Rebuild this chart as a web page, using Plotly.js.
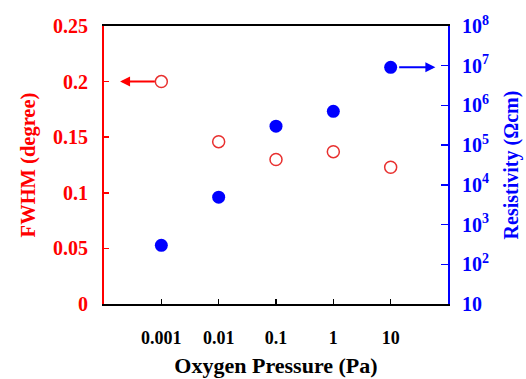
<!DOCTYPE html>
<html>
<head>
<meta charset="utf-8">
<script src="https://cdn.plot.ly/plotly-3.0.1.min.js"></script>
<style>html,body{margin:0;padding:0;background:#fff;}#chart{width:526px;height:379px;}</style>
</head>
<body>
<div id="chart"></div>
<script>
// Data
const pressure = [0.001, 0.01, 0.1, 1, 10];              // Oxygen pressure (Pa)
const fwhm = [0.200, 0.146, 0.130, 0.137, 0.123];          // FWHM (degree)
const resistivity = [300, 4900, 3.0e5, 7.1e5, 9.1e6];     // Resistivity (Ωcm)
const xTickLabels = ['0.001', '0.01', '0.1', '1', '10'];
const yTickVals = [0, 0.05, 0.1, 0.15, 0.2, 0.25];
const y2TickVals = [10, 1e2, 1e3, 1e4, 1e5, 1e6, 1e7, 1e8];
const y2TickLabels = ['10', '10<sup>2</sup>', '10<sup>3</sup>', '10<sup>4</sup>', '10<sup>5</sup>', '10<sup>6</sup>', '10<sup>7</sup>', '10<sup>8</sup>'];

const FONT = 'Liberation Serif';
const RED = '#ff0000', BLUE = '#0000ff';

function f(size, color) { return {family: FONT, size: size, color: color, weight: 'bold'}; }

const traces = [
  {x: pressure, y: fwhm, type: 'scatter', mode: 'markers', yaxis: 'y',
   marker: {symbol: 'circle-open', size: 12, color: '#e8302f', line: {width: 1.5, color: '#e8302f'}}},
  {x: pressure, y: resistivity, type: 'scatter', mode: 'markers', yaxis: 'y2',
   marker: {symbol: 'circle', size: 13, color: BLUE}}
];

const xr = [-4, 2];
const layout = {
  width: 526, height: 379,
  font: {family: FONT, size: 18},
  margin: {l: 104, r: 78, t: 26, b: 75},
  paper_bgcolor: '#fff', plot_bgcolor: '#fff',
  showlegend: false,
  xaxis: {type: 'log', range: xr, tickvals: pressure, ticktext: xTickLabels,
    showline: true, linecolor: '#000', linewidth: 2, mirror: true,
    ticks: 'inside', ticklen: 5, tickwidth: 1.5, tickcolor: '#000',
    showgrid: false, zeroline: false, ticklabelstandoff: 16,
    tickfont: f(18, '#000'),
    title: {text: 'Oxygen Pressure (Pa)', standoff: 11, font: f(22, '#000')}},
  yaxis: {range: [0, 0.25], tickvals: yTickVals,
    showline: true, linecolor: RED, linewidth: 2,
    ticks: 'inside', ticklen: 5, tickwidth: 1.5, tickcolor: RED,
    showgrid: false, zeroline: false, ticklabelstandoff: 10,
    tickfont: f(20, RED),
    title: {text: 'FWHM (degree)', standoff: 12, font: f(20.5, RED)}},
  yaxis2: {type: 'log', range: [1, 8], overlaying: 'y', side: 'right',
    tickvals: y2TickVals, ticktext: y2TickLabels,
    showline: true, linecolor: BLUE, linewidth: 2,
    ticks: 'inside', ticklen: 7, tickwidth: 1.5, tickcolor: BLUE,
    showgrid: false, zeroline: false, ticklabelstandoff: 8,
    tickfont: f(20, BLUE),
    title: {text: 'Resistivity (Ωcm)', standoff: 16, font: f(20, BLUE)}},
  annotations: [
    {xref: 'x', yref: 'y', axref: 'x', ayref: 'y',
     x: xr[0] + 0.28, y: fwhm[0], ax: Math.log10(pressure[0]), ay: fwhm[0],
     text: '', showarrow: true, arrowhead: 2, arrowsize: 1, arrowwidth: 2, arrowcolor: RED, startstandoff: 5},
    {xref: 'x', yref: 'y2', axref: 'x', ayref: 'y2',
     x: xr[1] - 0.22, y: Math.log10(resistivity[4]), ax: Math.log10(pressure[4]), ay: Math.log10(resistivity[4]),
     text: '', showarrow: true, arrowhead: 2, arrowsize: 1, arrowwidth: 2, arrowcolor: BLUE, startstandoff: 7}
  ]
};

Plotly.newPlot('chart', traces, layout, {displayModeBar: false, staticPlot: true});
</script>
</body>
</html>
